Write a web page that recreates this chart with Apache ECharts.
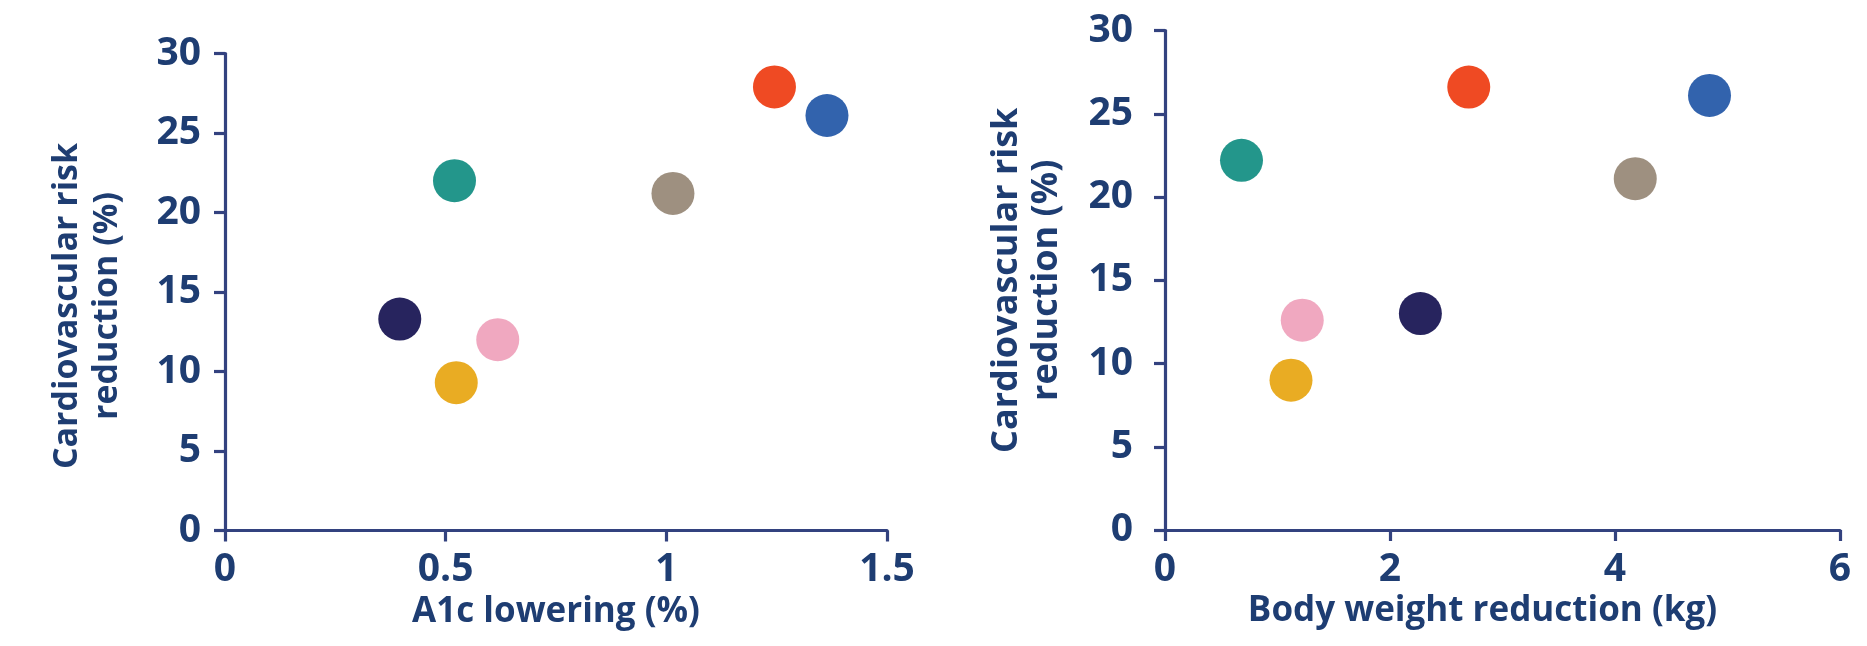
<!DOCTYPE html>
<html>
<head>
<meta charset="utf-8">
<script src="https://cdn.jsdelivr.net/npm/echarts@6/dist/echarts.min.js"></script>
<style>
  html, body { margin: 0; padding: 0; background: #ffffff; }
  #chart { width: 1867px; height: 646px; }
</style>
</head>
<body>
<div id="chart"></div>
<script>
// ---- Data ----
const groups = ['Red', 'Blue', 'Teal', 'Grey', 'Navy', 'Pink', 'Yellow'];
const a1cLowering = [1.245, 1.364, 0.52, 1.015, 0.396, 0.618, 0.524];
const cvRiskVsA1c = [27.9, 26.1, 22.0, 21.2, 13.3, 12.0, 9.3];
const weightReduction = [2.70, 4.84, 0.68, 4.18, 2.27, 1.22, 1.12];
const cvRiskVsWeight = [26.6, 26.1, 22.2, 21.1, 13.0, 12.6, 9.0];
const yTitle = 'Cardiovascular risk\nreduction (%)';
const xTitleLeft = 'A1c lowering (%)';
const xTitleRight = 'Body weight reduction (kg)';

// ---- Styles ----
const palette = ['#EF4A23', '#3263AD', '#23968B', '#9E9080', '#27245E', '#F0A8C0', '#E9AC23'];
const axisColor = '#33427F';
const textColor = '#1E3D72';
const font = "'Open Sans', 'Noto Sans', sans-serif";

function points(xs, ys) {
  return groups.map((g, i) => ({
    name: g,
    value: [xs[i], ys[i]],
    itemStyle: { color: palette[i], opacity: 1 }
  }));
}

function xAxisCfg(idx, max, interval, name, namePad) {
  return {
    gridIndex: idx, type: 'value', min: 0, max: max, interval: interval,
    name: name, nameLocation: 'middle', nameGap: 64,
    nameTextStyle: { color: textColor, fontSize: 35, fontWeight: 'bold', fontFamily: font, padding: namePad },
    axisLine: { show: true, onZero: false, lineStyle: { color: axisColor, width: 3.2 } },
    axisTick: { show: true, length: 11, lineStyle: { color: axisColor, width: 3.2 } },
    axisLabel: { color: textColor, fontSize: 39, fontWeight: 'bold', fontFamily: font, margin: 20 },
    splitLine: { show: false }
  };
}

function yAxisCfg(idx, labelMargin, nameGap, nameSize, namePad) {
  return {
    gridIndex: idx, type: 'value', min: 0, max: 30, interval: 5,
    name: yTitle, nameLocation: 'middle', nameGap: nameGap, nameRotate: 90,
    nameTextStyle: { color: textColor, fontSize: nameSize, fontWeight: 'bold', fontFamily: font,
                     lineHeight: 40, padding: namePad },
    axisLine: { show: true, onZero: false, lineStyle: { color: axisColor, width: 3.2 } },
    axisTick: { show: true, length: 11, lineStyle: { color: axisColor, width: 3.2 } },
    axisLabel: { color: textColor, fontSize: 39, fontWeight: 'bold', fontFamily: font, margin: labelMargin },
    splitLine: { show: false }
  };
}

const chart = echarts.init(document.getElementById('chart'), null, { renderer: 'canvas' });
chart.setOption({
  backgroundColor: '#ffffff',
  animation: false,
  grid: [
    { left: 225, top: 53.5, width: 662, height: 477 },
    { left: 1165, top: 30.5, width: 675, height: 499.5 }
  ],
  xAxis: [
    xAxisCfg(0, 1.5, 0.5, xTitleLeft, [0, 0, 0, 0]),
    xAxisCfg(1, 6, 2, xTitleRight, [0, 40, 0, 0])
  ],
  yAxis: [
    yAxisCfg(0, 24, 98, 34, [0, 28, 0, 0]),
    yAxisCfg(1, 32, 98, 36, [0, 0, 0, 0])
  ],
  series: [
    { type: 'scatter', xAxisIndex: 0, yAxisIndex: 0, symbol: 'circle', symbolSize: 43,
      itemStyle: { opacity: 1 }, data: points(a1cLowering, cvRiskVsA1c) },
    { type: 'scatter', xAxisIndex: 1, yAxisIndex: 1, symbol: 'circle', symbolSize: 43,
      itemStyle: { opacity: 1 }, data: points(weightReduction, cvRiskVsWeight) }
  ]
});
</script>
</body>
</html>
